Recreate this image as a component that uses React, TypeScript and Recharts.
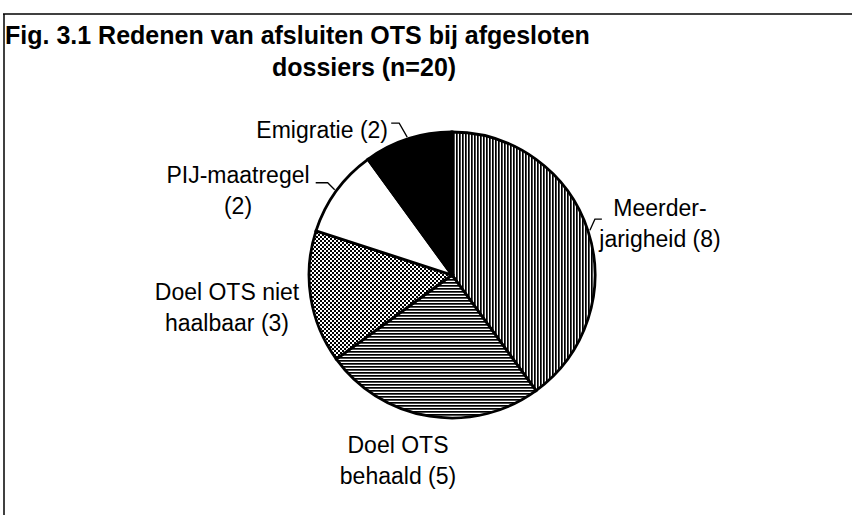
import React from "react";
import { PieChart, Pie, Cell } from "recharts";

const reasons = [
  "Meerderjarigheid",
  "Doel OTS behaald",
  "Doel OTS niet haalbaar",
  "PIJ-maatregel",
  "Emigratie",
];
const counts = [8, 5, 3, 2, 2];
// label text split over lines, the count is appended to the last line
const labelText = [
  ["Meerder-", "jarigheid"],
  ["Doel OTS", "behaald"],
  ["Doel OTS niet", "haalbaar"],
  ["PIJ-maatregel", ""],
  ["Emigratie"],
];
const titleLines = [
  "Fig. 3.1 Redenen van afsluiten OTS bij afgesloten",
  "dossiers (n=20)",
];

const data = reasons.map((name, i) => ({ name, value: counts[i] }));

const W = 852;
const H = 515;
const FONT = "'Liberation Sans', Arial, Helvetica, sans-serif";
const fills = ["url(#vlines)", "url(#hlines)", "url(#checker)", "#ffffff", "#000000"];

// label placement relative to pie centre, leader = elbow offset from edge + horizontal run
const labelLayout = [
  { dx: 208, dy: -59, anchor: "middle", leader: { ex: 5, ey: -11, hx: 7 } },
  { dx: -54, dy: 178, anchor: "middle", leader: null },
  { dx: -225, dy: 25, anchor: "middle", leader: null },
  { dx: -214, dy: -92, anchor: "middle", leader: { ex: -7, ey: -7, hx: -12 } },
  { dx: -64, dy: -137, anchor: "end", leader: { ex: -8, ey: -14, hx: -8 } },
];

const RADIAN = Math.PI / 180;
const LINE_H = 31;

function renderLabel(props: any) {
  const { cx, cy, midAngle, outerRadius, index } = props;
  const lay = labelLayout[index];
  const lines = labelText[index].slice();
  const last = lines[lines.length - 1];
  lines[lines.length - 1] = last ? `${last} (${counts[index]})` : `(${counts[index]})`;
  let leader = null;
  if (lay.leader) {
    const r = outerRadius + 2;
    const x0 = cx + r * Math.cos(-midAngle * RADIAN);
    const y0 = cy + r * Math.sin(-midAngle * RADIAN);
    const x1 = x0 + lay.leader.ex;
    const y1 = y0 + lay.leader.ey;
    const x2 = x1 + lay.leader.hx;
    leader = (
      <path
        d={`M${x0},${y0} L${x1},${y1} L${x2},${y1}`}
        stroke="#000"
        strokeWidth={1.3}
        fill="none"
      />
    );
  }
  return (
    <g key={`lbl-${index}`}>
      {leader}
      <text
        x={cx + lay.dx}
        y={cy + lay.dy}
        textAnchor={lay.anchor as any}
        fontFamily={FONT}
        fontSize={23}
        fill="#000"
      >
        {lines.map((t, i) => (
          <tspan key={i} x={cx + lay.dx} dy={i === 0 ? 0 : LINE_H}>
            {t}
          </tspan>
        ))}
      </text>
    </g>
  );
}

export default function App() {
  return (
    <div style={{ position: "absolute", left: 0, top: 0, width: W, height: H, background: "#fff" }}>
      <PieChart width={W} height={H} margin={{ top: 0, right: 0, bottom: 0, left: 0 }}>
        <defs>
          <pattern id="vlines" width="3" height="4" patternUnits="userSpaceOnUse">
            <rect x="0" y="0" width="3" height="4" fill="#fff" />
            <rect x="0" y="0" width="1.7" height="4" fill="#000" />
          </pattern>
          <pattern id="hlines" width="4" height="3" patternUnits="userSpaceOnUse">
            <rect x="0" y="0" width="4" height="3" fill="#fff" />
            <rect x="0" y="0" width="4" height="1.7" fill="#000" />
          </pattern>
          <pattern id="checker" width="4" height="4" patternUnits="userSpaceOnUse">
            <rect x="0" y="0" width="4" height="4" fill="#fff" />
            <rect x="0" y="0" width="2" height="2" fill="#000" />
            <rect x="2" y="2" width="2" height="2" fill="#000" />
          </pattern>
        </defs>
        <line x1={3} y1={14} x2={W} y2={14} stroke="#000" strokeWidth={1.5} />
        <line x1={4} y1={14} x2={4} y2={H} stroke="#000" strokeWidth={1.5} />
        <text x={5} y={44} fontFamily={FONT} fontWeight="bold" fontSize={25} fill="#000">
          {titleLines[0]}
        </text>
        <text x={272} y={76} fontFamily={FONT} fontWeight="bold" fontSize={25} fill="#000">
          {titleLines[1]}
        </text>
        <Pie
          data={data}
          dataKey="value"
          nameKey="name"
          cx={452}
          cy={275}
          outerRadius={143}
          startAngle={90}
          endAngle={-270}
          stroke="#000"
          strokeWidth={2.8}
          label={renderLabel}
          labelLine={false}
          isAnimationActive={false}
        >
          {data.map((d, i) => (
            <Cell key={d.name} fill={fills[i]} />
          ))}
        </Pie>
      </PieChart>
    </div>
  );
}
